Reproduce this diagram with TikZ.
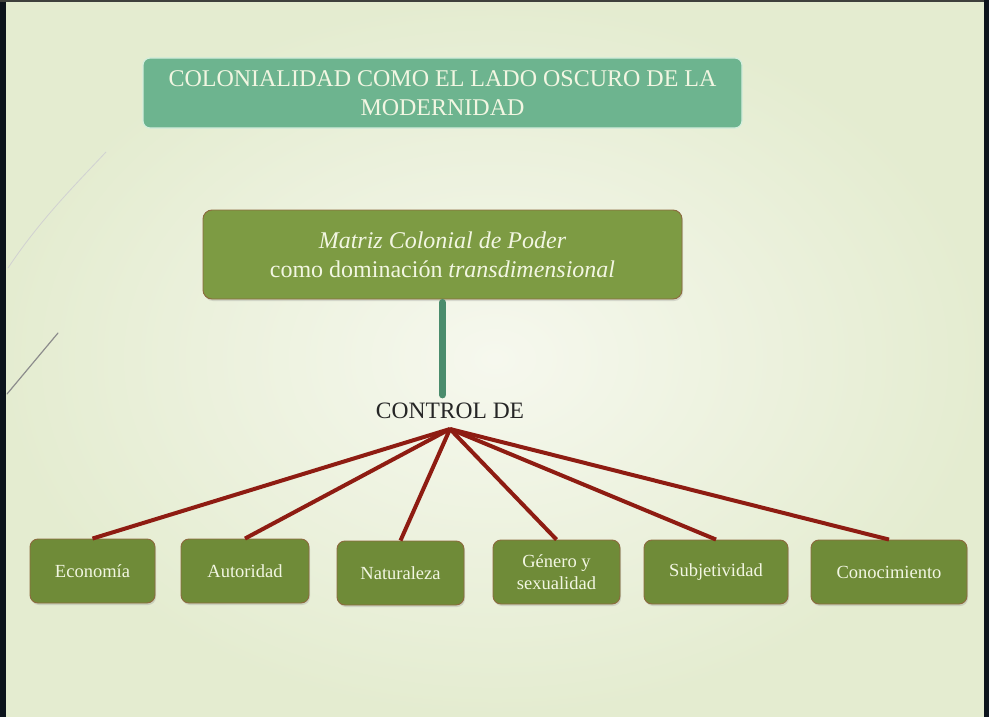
\documentclass[tikz,border=0pt]{standalone}
\usepackage{fontspec}
\setmainfont{Liberation Serif}
\usetikzlibrary{shadows}
\definecolor{bgin}{HTML}{F6F8EE}
\definecolor{bgout}{HTML}{E4ECD0}
\definecolor{titlefill}{HTML}{6DB48F}
\definecolor{titleedge}{HTML}{D4EEDD}
\definecolor{olive}{HTML}{7D9B43}
\definecolor{olivedark}{HTML}{6F8B38}
\definecolor{boxedge}{HTML}{8C6A3E}
\definecolor{cream}{HTML}{F2F6E2}
\definecolor{linkred}{HTML}{8E1C12}
\definecolor{barteal}{HTML}{4A8C6C}
\definecolor{frameL}{HTML}{0C141C}
\definecolor{frameT}{HTML}{3E403C}
\tikzset{
  x=1pt, y=-1pt,
  titlebox/.style={draw=titleedge, line width=1.2pt, fill=titlefill, rounded corners=7pt,
    text=cream, align=center, font=\fontsize{24}{29}\selectfont, inner sep=0pt,
    minimum width=599pt, minimum height=70pt},
  mainbox/.style={draw=boxedge, line width=0.9pt, fill=olive, rounded corners=9pt,
    text=cream, align=center, font=\fontsize{24}{29}\selectfont, inner sep=0pt,
    minimum width=479pt, minimum height=89pt,
    drop shadow={opacity=0.25, shadow xshift=1pt, shadow yshift=-2pt}},
  leafbox/.style={draw=boxedge, line width=0.9pt, fill=olivedark, rounded corners=8pt,
    text=cream, align=center, font=\fontsize{18.5}{22}\selectfont, inner sep=0pt,
    minimum height=64pt,
    drop shadow={opacity=0.25, shadow xshift=1pt, shadow yshift=-2pt}},
  link/.style={draw=linkred, line width=4pt},
  stem/.style={draw=barteal, line width=7pt, line cap=round},
  ctrltext/.style={font=\fontsize{23.5}{26}\selectfont, text=black!85, inner sep=0pt}
}
\begin{document}
\begin{tikzpicture}
\useasboundingbox (0,0) rectangle (989,717);
% background
\shade[inner color=bgin, outer color=bgout] (0,0) rectangle (989,717);
\fill[frameL] (0,0) rectangle (6,717);
\fill[frameT] (0,0) rectangle (989,2.5);
\fill[frameL] (984,0) rectangle (989,717);
% decorative strokes
\draw[color=black!18, line width=0.8pt] (8,268) .. controls (40,220) and (75,185) .. (106,152);
\draw[color=black!45, line width=1.2pt, line cap=round] (7,394) -- (58,333);

% nodes
\node[titlebox] (title) at (442.5,93) {COLONIALIDAD COMO EL LADO OSCURO DE LA\\MODERNIDAD};
\node[mainbox] (mat) at (442.5,254.5) {\textit{Matriz Colonial de Poder}\\como dominación \textit{transdimensional}};
\node[ctrltext] (ctrl) at (450,411) {CONTROL DE};
\coordinate (hub) at (450,429);

\node[leafbox, minimum width=125pt] (eco) at (92.5,571) {Economía};
\node[leafbox, minimum width=128pt] (aut) at (245,571) {Autoridad};
\node[leafbox, minimum width=127pt] (nat) at (400.5,573) {Naturaleza};
\node[leafbox, minimum width=127pt] (gen) at (556.5,572) {Género y\\sexualidad};
\node[leafbox, minimum width=144pt] (sub) at (716,572) {Subjetividad};
\node[leafbox, minimum width=156pt] (con) at (889,572) {Conocimiento};

% connectors
\draw[stem, shorten <=3pt, shorten >=8pt] (mat.south) -- (mat.south |- ctrl.north);
\foreach \n in {eco,aut,nat,gen,sub,con}
  \draw[link] (hub) -- (\n.north);
\end{tikzpicture}
\end{document}
